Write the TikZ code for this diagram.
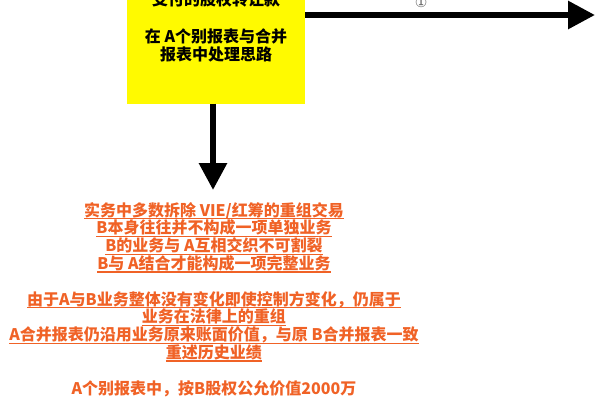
\documentclass[tikz,border=0pt]{standalone}
\usepackage{fontspec}
\newfontfamily\cjk{Noto Sans CJK SC}
\newfontfamily\symfont{DejaVu Sans}
\usetikzlibrary{arrows.meta}
\definecolor{notered}{RGB}{240,98,38}
\definecolor{boxyellow}{RGB}{255,250,0}
\newsavebox{\redlinebox}
\newcommand{\redline}[1]{\sbox{\redlinebox}{#1}\usebox{\redlinebox}\llap{\rule[-3.2pt]{\wd\redlinebox}{1.3pt}}}

\begin{document}
\begin{tikzpicture}[x=1pt,y=-1pt,
  yellowbox/.style={fill=boxyellow, minimum width=178pt, minimum height=125pt, inner sep=0pt},
  bigarrow/.style={line width=6pt, -{Triangle[length=27pt,width=27pt]}},
  boxtext/.style={align=center, inner sep=0pt, font=\cjk\bfseries\fontsize{16}{18.5}\selectfont},
  notetext/.style={text=notered, align=center, inner sep=0pt, font=\cjk\bfseries\fontsize{16}{17.8}\selectfont}]
\useasboundingbox (0,0) rectangle (600,400);
%draw yellow box
\node (task) [yellowbox] at (216,41) {};
\node (tasktext) [boxtext] at (216,27) {支付的股权转让款\\[18.5pt]在 A个别报表与合并\\报表中处理思路};
%draw arrows
\coordinate (rend) at (595,15);
\coordinate (dend) at (213,190);
\draw [bigarrow] (task.east |- rend) -- (rend) node[pos=.4, above=1pt, font=\symfont\fontsize{14}{14}\selectfont, text=black!60] (one) {①};
\draw [bigarrow] (dend |- task.south) -- (dend);
%draw notes
\node (notes) [notetext, anchor=north] at (214,202) {%
\redline{实务中多数拆除 VIE/红筹的重组交易}\\
\redline{B本身往往并不构成一项单独业务}\\
\redline{B的业务与 A互相交织不可割裂}\\
\redline{B与 A结合才能构成一项完整业务}\\[17.8pt]
\redline{由于A与B业务整体没有变化即使控制方变化，仍属于}\\
\redline{业务在法律上的重组}\\
\redline{A合并报表仍沿用业务原来账面价值，与原 B合并报表一致}\\
\redline{重述历史业绩}\\[17.8pt]
A个别报表中，按B股权公允价值2000万};
\end{tikzpicture}
\end{document}
